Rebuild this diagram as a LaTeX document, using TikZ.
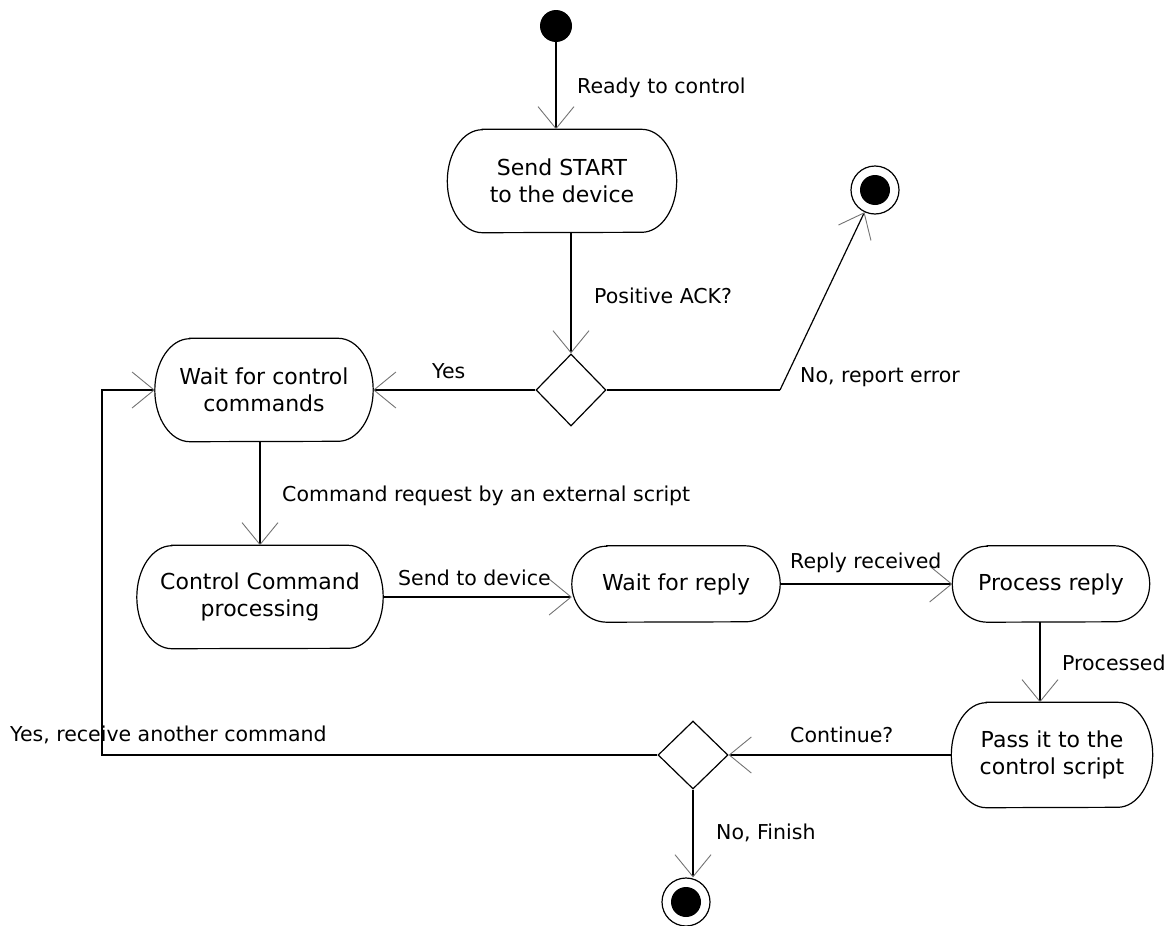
\documentclass[tikz,border=0pt]{standalone}
\usepackage{fontspec}
\setmainfont{DejaVu Sans}
\usetikzlibrary{arrows.meta,shapes.geometric}

% activity box: name, x, y (downwards), width, height, text
\newcommand\actbox[6]{%
  \node[actnode, minimum width=#4pt, minimum height=#5pt] (#1) at (#2,-#3) {#6};
  \draw[actline] ([xshift=35pt]#1.north west) -- ([xshift=-35pt]#1.north east)
    arc[start angle=90, end angle=-90, x radius=35pt, y radius=#5pt/2]
    -- ([xshift=35pt]#1.south west)
    arc[start angle=270, end angle=90, x radius=35pt, y radius=#5pt/2] -- cycle;}

\begin{document}
\begin{tikzpicture}[x=1pt,y=1pt,
  actnode/.style={shape=rectangle, draw=none, inner sep=0pt, align=center,
    font=\fontsize{22}{27}\selectfont},
  actline/.style={line width=1.2pt},
  decision/.style={shape=diamond, draw, line width=1.2pt, inner sep=0pt,
    minimum width=70pt, minimum height=72pt},
  initial/.style={shape=circle, fill=black, inner sep=0pt, minimum size=32pt},
  final/.style={shape=circle, draw, line width=1.2pt, inner sep=0pt, minimum size=48pt,
    path picture={\fill[black] (path picture bounding box.center) circle[radius=15pt];}},
  flow/.style={line width=1.2pt,
    -{Straight Barb[length=22pt,width=36pt,line width=0.9pt,color=black!55]}},
  plain/.style={line width=1.2pt},
  lbl/.style={anchor=west, inner sep=0pt, font=\fontsize{20.5}{24}\selectfont}]

\useasboundingbox (0,0) rectangle (1175,-926);

% nodes
\node[initial] (start) at (556,-26) {};
\actbox{send}{562}{181}{229}{103}{Send START\\to the device}
\node[decision] (d1) at (571,-390) {};
\node[final] (end1) at (875,-190) {};
\actbox{wait}{264}{390}{218}{103}{Wait for control\\commands}
\actbox{ctrl}{260}{597}{246}{103}{Control Command\\processing}
\actbox{wr}{676}{584}{208}{76}{Wait for reply}
\actbox{pr}{1051}{584}{197}{76}{Process reply}
\actbox{pass}{1052}{755}{201}{105}{Pass it to the\\control script}
\node[decision, minimum height=68pt] (d2) at (693,-755) {};
\node[final] (end2) at (686,-902) {};

\coordinate (bend) at (780,-390);
\coordinate (loopx) at (102,-600);

% connectors
\draw[flow] (start) -- (start |- send.north);
\draw[flow] (d1.north |- send.south) -- (d1.north);
\draw[flow] (d1.west) -- (d1.west -| wait.east);
\draw[plain] (d1.east) -- (bend);
\draw[flow] (bend) -- (end1);
\draw[flow] (ctrl.north |- wait.south) -- (ctrl.north);
\draw[flow] (ctrl.east) -- (ctrl.east -| wr.west);
\draw[flow] (wr.east) -- (pr.west);
\draw[flow] ([xshift=-11pt]pr.south) -- ([xshift=-11pt]pr.south |- pass.north);
\draw[flow] (pass.west) -- (d2.east);
\draw[flow] (d2.west) -- (d2.west -| loopx) -- (loopx |- wait.west) -- (wait.west);
\draw[flow] (d2.south) -- (d2.south |- end2.north);

% labels
\node[lbl] (t1) at (577,-88) {Ready to control};
\node[lbl] (t2) at (594,-296) {Positive ACK?};
\node[lbl] (t3) at (432,-371) {Yes};
\node[lbl] (t4) at (800,-377) {No, report error};
\node[lbl] (t5) at (282,-496) {Command request by an external script};
\node[lbl] (t6) at (398,-578) {Send to device};
\node[lbl] (t7) at (790,-563) {Reply received};
\node[lbl] (t8) at (1062,-663) {Processed};
\node[lbl] (t9) at (790,-735) {Continue?};
\node[lbl] (t10) at (10,-735) {Yes, receive another command};
\node[lbl] (t11) at (716,-833) {No, Finish};
\end{tikzpicture}
\end{document}
